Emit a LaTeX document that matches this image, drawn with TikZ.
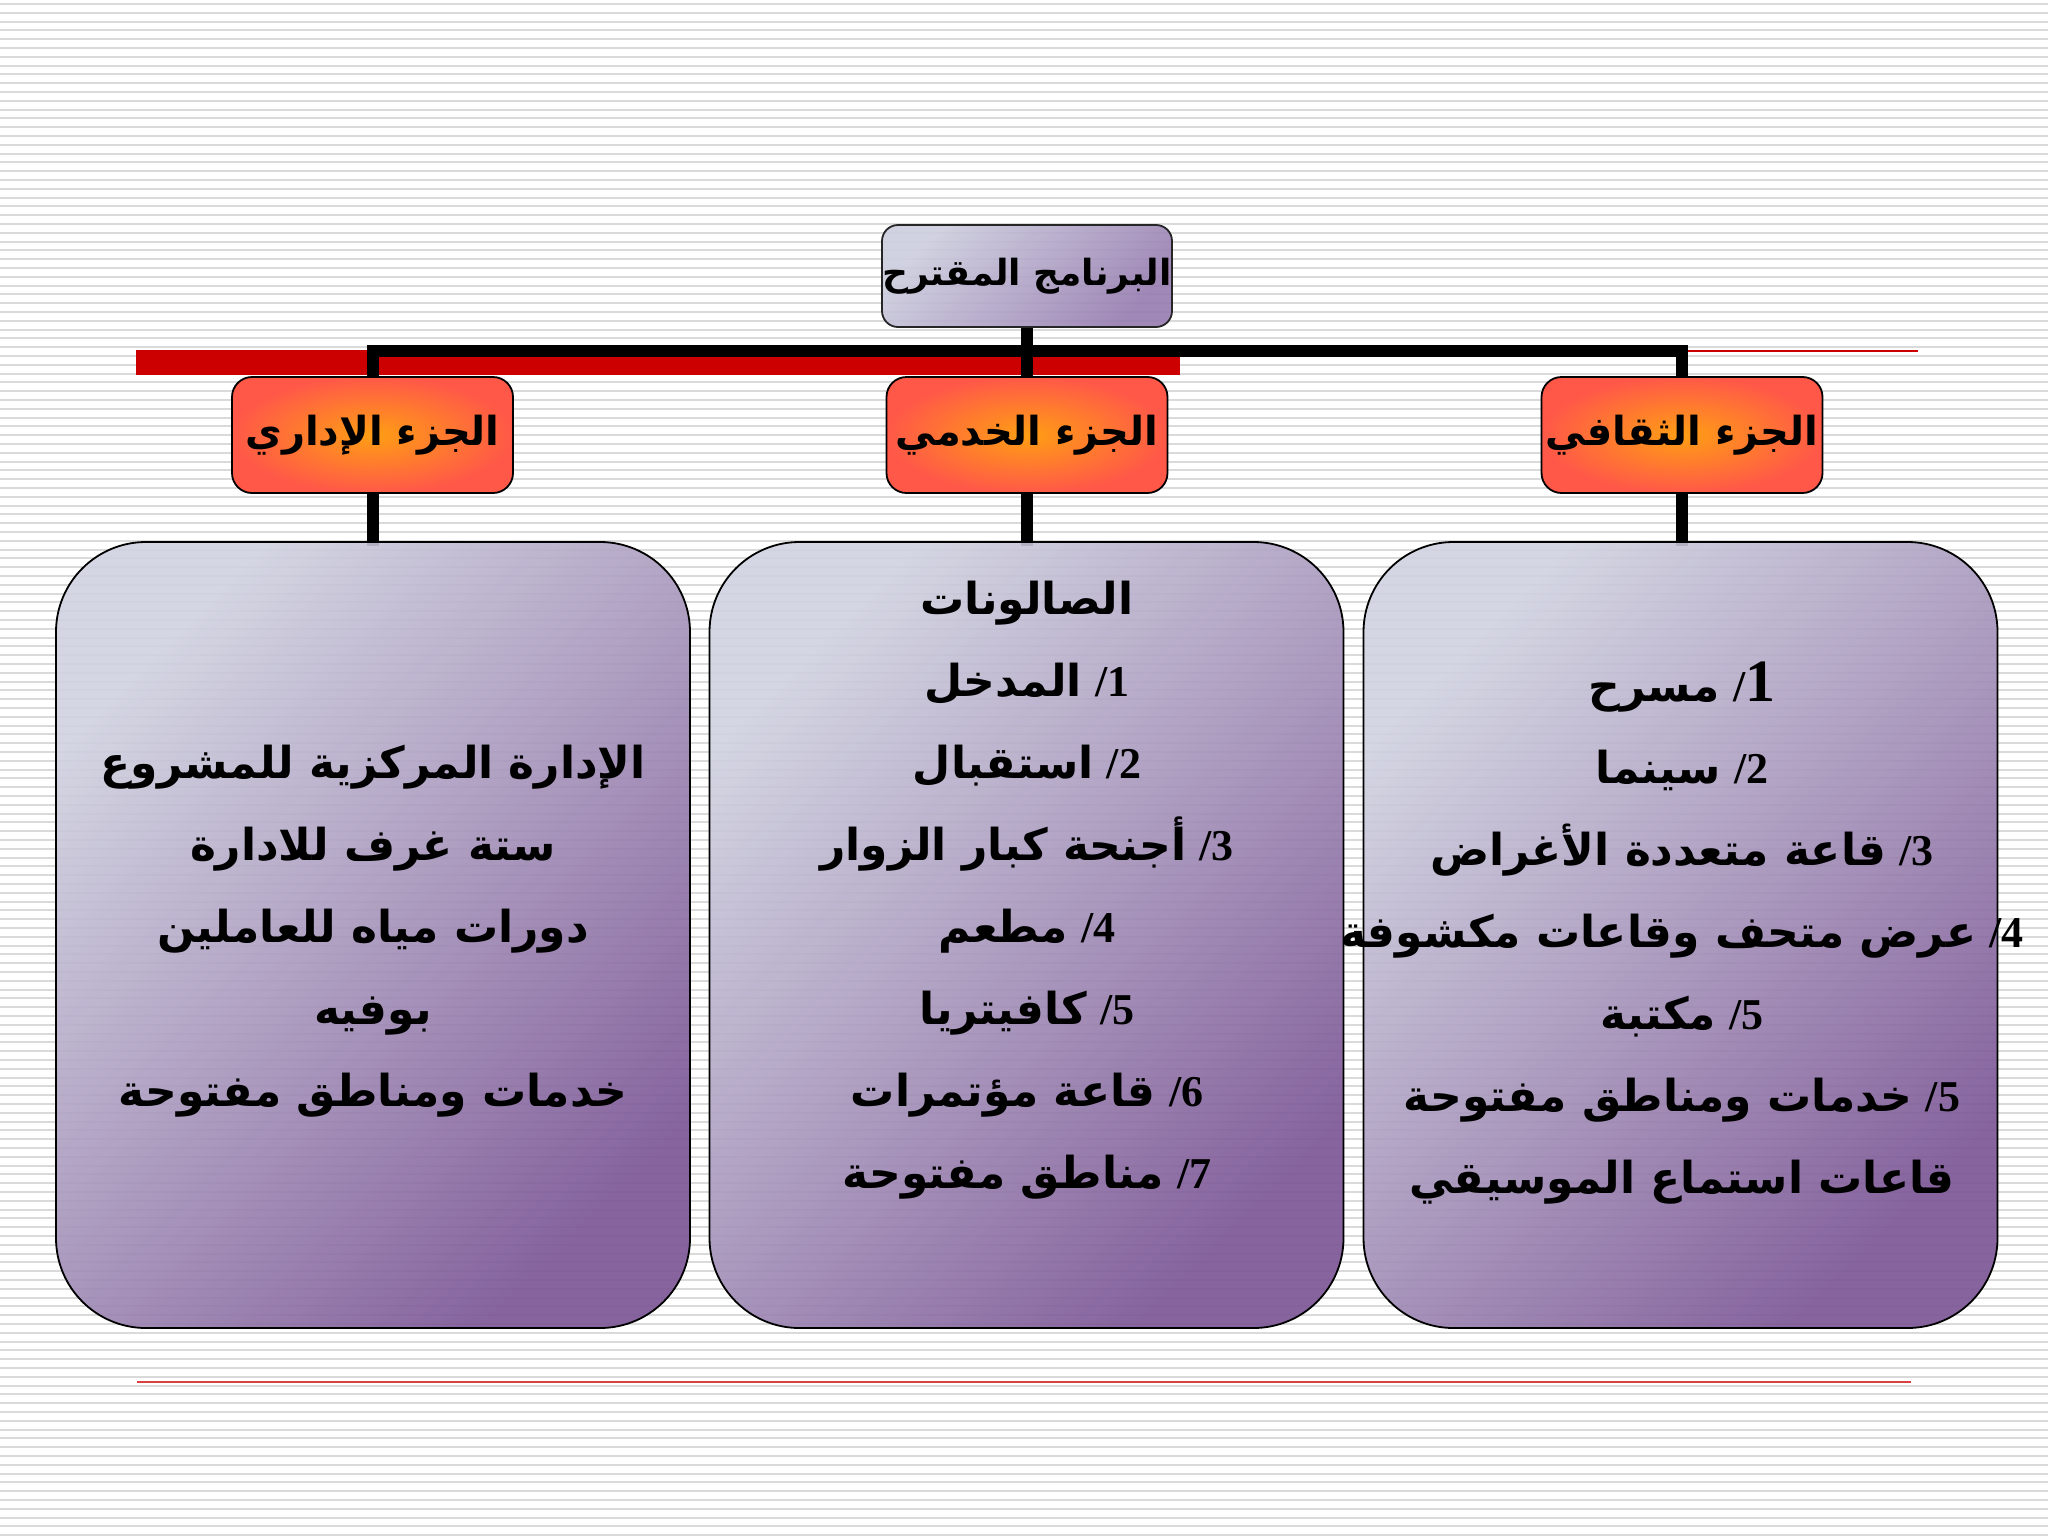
\documentclass[tikz,border=0pt]{standalone}
\usepackage{fontspec}
\newfontfamily\arabicfont[Script=Arabic]{DejaVu Sans}
\newfontfamily\numfont{Liberation Serif}
\TeXXeTstate=1
\definecolor{redc}{RGB}{204,0,0}
\definecolor{stripec}{RGB}{218,218,218}
\definecolor{oin}{RGB}{255,158,20}
\definecolor{oout}{RGB}{255,88,72}
\definecolor{plight}{RGB}{208,210,224}
\definecolor{pdark}{RGB}{122,84,148}
\definecolor{tlight}{RGB}{205,206,222}
\definecolor{tdark}{RGB}{150,124,176}
\newcommand\artxt[1]{{\arabicfont\bfseries\beginR #1\endR}}
\newcommand\numline[2]{\artxt{#2}\ {\numfont\bfseries /#1}}
\usetikzlibrary{calc}
\begin{document}
\begin{tikzpicture}[x=0.5pt,y=-0.5pt,
  stripe/.style={draw=stripec, line width=1pt},
  conn/.style={draw=black, line width=6pt},
  topbox/.style={draw=black!85, line width=0.9pt, rounded corners=8pt,
    minimum width=145pt, minimum height=51pt, inner sep=0pt,
    shading=axis, top color=tlight, bottom color=tdark, shading angle=45,
    fill opacity=0.9, text opacity=1, font=\fontsize{18}{22}\selectfont},
  hbox/.style={draw=black, line width=0.9pt, rounded corners=10pt,
    minimum width=140.5pt, minimum height=58pt, inner sep=0pt,
    shading=radial, inner color=oin, outer color=oout,
    font=\fontsize{20}{24}\selectfont},
  cbox/.style={draw=black, line width=0.9pt, rounded corners=45pt,
    minimum width=317pt, minimum height=393pt, inner sep=0pt,
    shading=axis, top color=plight, bottom color=pdark, shading angle=45,
    fill opacity=0.9},
  ctext/.style={align=center, inner sep=0pt, font=\fontsize{22}{41}\selectfont}
]
\useasboundingbox (0,0) rectangle (2048,1536);
\fill[white] (0,0) rectangle (2048,1536);
\foreach \i in {0,...,175} {
  \draw[stripe] (0,{\i*8.8+4}) -- (2048,{\i*8.8+4});
}
% red decorations
\fill[redc] (136,350) rectangle (1180,375);
\draw[redc, line width=0.8pt] (1688,351) -- (1918,351);
\draw[redc!75!white, line width=0.7pt] (137,1382) -- (1911,1382);

% nodes
\node[topbox] (top) at (1027,276) {\artxt{البرنامج المقترح}};
\coordinate (bus) at (0,351);

% connectors (drawn before headers/boxes so they sit beneath)
\path (372.5,435) coordinate (hLc) (1027,435) coordinate (hMc) (1682,435) coordinate (hRc);
\draw[conn] (hLc |- bus) -- (hRc |- bus);
\draw[conn] ($(hLc |- bus)+(0,-6)$) -- (hLc);
\draw[conn] ($(hRc |- bus)+(0,-6)$) -- (hRc);
\draw[conn] (top.south) -- (hMc);

\node[hbox] (hL) at (hLc) {\artxt{الجزء الإداري}};
\node[hbox] (hM) at (hMc) {\artxt{الجزء الخدمي}};
\node[hbox] (hR) at (hRc) {\artxt{الجزء الثقافي}};

\draw[conn] (hL.south) -- ++(0,52) coordinate (eL);
\draw[conn] (hM.south) -- ++(0,52) coordinate (eM);
\draw[conn] (hR.south) -- ++(0,52) coordinate (eR);

\node[cbox] (bL) at (373,935) {};
\node[cbox] (bM) at (1026.5,935) {};
\node[cbox] (bR) at (1680.5,935) {};

\node[ctext] (tL) at (373,931) {%
\artxt{الإدارة المركزية للمشروع}\\
\artxt{ستة غرف للادارة}\\
\artxt{دورات مياه للعاملين}\\
\artxt{بوفيه}\\
\artxt{خدمات ومناطق مفتوحة}};

\node[ctext] (tM) at (1027,890) {%
\artxt{الصالونات}\\
\numline{1}{المدخل}\\
\numline{2}{استقبال}\\
\numline{3}{أجنحة كبار الزوار}\\
\numline{4}{مطعم}\\
\numline{5}{كافيتريا}\\
\numline{6}{قاعة مؤتمرات}\\
\numline{7}{مناطق مفتوحة}};

\node[ctext] (tR) at (1682,933) {%
\artxt{مسرح}\ {\numfont\bfseries /{\fontsize{30}{30}\selectfont 1}}\\
\numline{2}{سينما}\\
\numline{3}{قاعة متعددة الأغراض}\\
\numline{4}{عرض متحف وقاعات مكشوفة}\\
\numline{5}{مكتبة}\\
\numline{5}{خدمات ومناطق مفتوحة}\\
\artxt{قاعات استماع الموسيقي}};
\end{tikzpicture}
\end{document}
